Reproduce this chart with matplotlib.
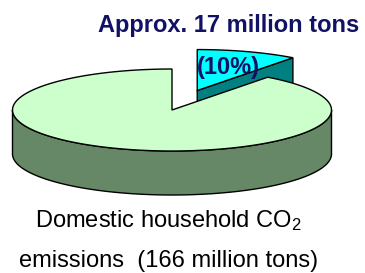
import numpy as np
import matplotlib
matplotlib.use("Agg")
import matplotlib.pyplot as plt
from matplotlib.patches import Polygon

plt.rcParams['font.family'] = ['Liberation Sans', 'DejaVu Sans']
plt.rcParams['mathtext.default'] = 'regular'

# data: domestic household CO2 emissions (million tons)
TOTAL = 166
PART = 17
labels = ["Other household emissions", "Approx. 17 million tons"]
values = [TOTAL - PART, PART]
part_label = "(10%)"
title_text = "Approx. 17 million tons"
caption = ["Domestic household CO$_2$", "emissions  (166 million tons)"]

# layout (pixels, y pointing down)
cx, cy, rx, ry, depth = 172, 110, 159.5, 41, 44
explode = 0.5
top_green, side_green = "#ccffcc", "#668866"
top_cyan, side_teal = "#00ffff", "#008080"
navy = "#111166"

fig = plt.figure(figsize=(3.65, 2.73), dpi=100)
ax = fig.add_axes([0, 0, 1, 1])
ax.set_xlim(0, 365)
ax.set_ylim(273, 0)
ax.axis("off")


def rim(theta, ox=0.0, oy=0.0, dz=0.0):
    t = np.radians(theta)
    return np.column_stack([cx + ox + rx * np.cos(t), cy + oy - ry * np.sin(t) + dz])


span = 360.0 * values[1] / sum(values)
start = 90.0
s0, s1 = start - span, start            # small slice, clockwise from 12 o'clock
mid = np.radians((s0 + s1) / 2)
ox, oy = explode * rx * np.cos(mid), -explode * ry * np.sin(mid)

kw = dict(edgecolor="black", linewidth=1.0, joinstyle="miter")

# exploded slice: cut face at s0, then top
apex = np.array([[cx + ox, cy + oy]])
p = rim(np.array([s0]), ox, oy)
face = np.vstack([apex, p, p + [0, depth], apex + [0, depth]])
ax.add_patch(Polygon(face, closed=True, facecolor=side_teal, **kw))
arc = rim(np.linspace(s1, s0, 40), ox, oy)
ax.add_patch(Polygon(np.vstack([apex, arc]), closed=True, facecolor=top_cyan, **kw))

# main slice: front wall then top
front = np.linspace(180, 360, 120)
wall = np.vstack([rim(front), rim(front[::-1], dz=depth)])
ax.add_patch(Polygon(wall, closed=True, facecolor=side_green, **kw))
arc = rim(np.linspace(s1, s0 + 360, 300))
ax.add_patch(Polygon(np.vstack([[[cx, cy]], arc]), closed=True, facecolor=top_green, **kw))

ax.text(228.5, 32, title_text, ha="center", va="baseline", fontsize=17,
        fontweight="bold", color=navy)
ax.text(228, 74, part_label, ha="center", va="baseline", fontsize=17,
        fontweight="bold", color=navy)
ax.text(168.5, 227.5, caption[0], ha="center", va="baseline", fontsize=17, color="black")
ax.text(168.5, 267, caption[1], ha="center", va="baseline", fontsize=17, color="black")

fig.savefig("out.png", dpi=100, facecolor="white")
